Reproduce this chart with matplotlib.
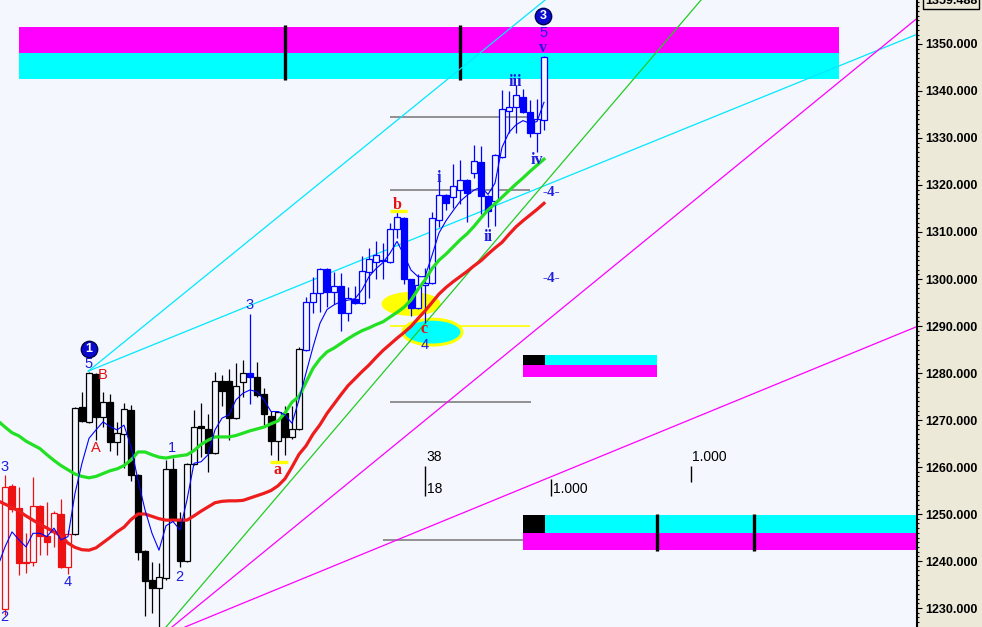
"""Candlestick chart with wave labels, target bands and trend lines."""

import matplotlib
matplotlib.use("Agg")
import matplotlib.pyplot as plt
from matplotlib.patches import Ellipse, Rectangle
from matplotlib.ticker import MultipleLocator
import numpy as np

plt.rcParams["font.family"] = ["Liberation Sans", "DejaVu Sans"]

# --- price bars (bar index 0..77) ---
opens = [1229.7, 1255.9, 1251.2, 1239.8, 1239.7, 1251.7, 1245.3, 1246.1, 1250.1, 1238.7,
         1245.7, 1272.7, 1269.6, 1279.8, 1270.6, 1273.8, 1265.3, 1267.0, 1272.1, 1258.3,
         1242.2, 1236.0, 1234.2, 1236.3, 1259.5, 1248.9, 1239.9, 1260.6, 1268.7, 1268.0,
         1262.9, 1278.2, 1278.4, 1270.5, 1278.0, 1280.1, 1279.1, 1275.5, 1270.9, 1265.5,
         1271.4, 1266.3, 1268.0, 1284.9, 1295.2, 1297.1, 1302.1, 1297.3, 1298.5, 1292.7,
         1295.7, 1294.8, 1301.4, 1303.6, 1304.0, 1303.6, 1310.6, 1312.9, 1299.9, 1293.8,
         1298.7, 1299.2, 1312.6, 1317.9, 1317.4, 1318.9, 1321.1, 1322.5, 1324.8, 1317.7,
         1316.5, 1326.0, 1335.8, 1336.5, 1338.8, 1335.6, 1331.0, 1333.8]
highs = [1258.3, 1256.3, 1255.8, 1246.0, 1257.9, 1251.9, 1252.6, 1250.6, 1253.1, 1246.5,
         1272.8, 1276.0, 1280.3, 1280.0, 1276.0, 1275.5, 1269.6, 1273.6, 1273.2, 1258.5,
         1242.4, 1239.7, 1239.6, 1261.5, 1261.9, 1250.5, 1260.8, 1272.1, 1273.7, 1271.3,
         1280.3, 1279.6, 1280.9, 1282.1, 1282.7, 1292.6, 1282.4, 1276.8, 1272.0, 1272.0,
         1272.9, 1273.0, 1285.5, 1296.1, 1300.5, 1302.3, 1302.3, 1301.4, 1301.3, 1298.3,
         1298.6, 1304.8, 1306.5, 1308.0, 1307.7, 1311.9, 1314.3, 1313.1, 1300.1, 1301.0,
         1302.3, 1314.3, 1322.5, 1318.1, 1324.5, 1325.3, 1321.3, 1328.5, 1328.3, 1317.9,
         1326.6, 1340.2, 1340.0, 1341.2, 1340.5, 1338.1, 1338.4, 1347.4]
lows = [1228.5, 1250.5, 1237.0, 1237.5, 1239.0, 1241.3, 1241.3, 1243.0, 1238.5, 1237.2,
        1245.5, 1269.5, 1269.4, 1265.7, 1268.6, 1263.3, 1262.5, 1259.7, 1257.0, 1240.2,
        1228.2, 1229.0, 1225.5, 1236.0, 1248.5, 1238.7, 1239.7, 1260.4, 1262.2, 1259.0,
        1262.7, 1273.0, 1265.7, 1270.3, 1275.0, 1273.5, 1275.0, 1269.0, 1262.5, 1261.0,
        1262.5, 1266.0, 1267.8, 1284.7, 1292.8, 1293.0, 1294.0, 1294.7, 1288.9, 1291.0,
        1294.6, 1294.6, 1296.0, 1300.0, 1300.0, 1303.4, 1308.7, 1299.0, 1292.1, 1293.6,
        1290.6, 1299.0, 1311.1, 1314.7, 1315.0, 1316.0, 1312.2, 1321.4, 1313.9, 1311.1,
        1311.3, 1325.8, 1331.0, 1331.0, 1335.4, 1330.3, 1327.1, 1331.6]
closes = [1255.8, 1251.1, 1239.6, 1239.6, 1251.8, 1245.3, 1244.0, 1250.3, 1238.8, 1245.7,
          1272.6, 1269.8, 1280.0, 1270.6, 1273.8, 1265.3, 1267.2, 1272.3, 1258.3, 1242.0,
          1235.8, 1234.2, 1236.5, 1259.5, 1248.9, 1239.9, 1260.6, 1268.6, 1268.2, 1262.9,
          1278.2, 1276.2, 1270.4, 1277.2, 1280.0, 1279.2, 1275.3, 1271.2, 1265.6, 1271.6,
          1266.4, 1268.0, 1285.2, 1295.2, 1297.1, 1302.1, 1297.3, 1298.6, 1292.7, 1295.9,
          1294.8, 1301.7, 1304.2, 1305.1, 1303.8, 1310.6, 1313.1, 1300.1, 1293.8, 1298.7,
          1299.2, 1312.9, 1317.9, 1316.1, 1319.8, 1321.1, 1318.2, 1325.1, 1317.7, 1314.5,
          1326.4, 1336.1, 1336.7, 1339.1, 1335.6, 1331.1, 1334.0, 1347.2]

# --- moving averages (bar index -1..77) ---
ma_fast = [1239.0, 1243.0, 1246.2, 1244.5, 1243.0, 1245.9, 1245.9, 1245.2, 1247.0, 1244.5,
           1245.2, 1254.4, 1260.8, 1266.1, 1267.9, 1269.6, 1268.6, 1267.9, 1268.9, 1264.3,
           1257.2, 1250.9, 1245.9, 1242.3, 1247.5, 1248.4, 1246.6, 1253.0, 1260.8, 1261.1,
           1262.6, 1267.9, 1270.4, 1271.1, 1274.3, 1275.7, 1276.4, 1276.0, 1274.3, 1271.8,
           1271.8, 1271.1, 1269.3, 1274.3, 1280.0, 1285.5, 1290.6, 1293.5, 1294.5, 1295.2,
           1295.5, 1295.8, 1297.7, 1300.5, 1302.2, 1303.5, 1305.5, 1308.0, 1305.1, 1301.9,
           1300.5, 1300.5, 1305.0, 1309.8, 1312.4, 1314.5, 1316.5, 1317.8, 1318.9, 1319.6,
           1318.0, 1320.4, 1328.0, 1331.2, 1332.8, 1333.7, 1333.1, 1333.5, 1337.6]
ma_mid = [1269.8, 1268.5, 1267.3, 1266.6, 1265.5, 1264.7, 1263.9, 1262.6, 1261.4, 1260.3,
          1259.4, 1258.5, 1258.0, 1257.7, 1258.0, 1258.6, 1259.2, 1259.6, 1260.3, 1261.5,
          1263.2, 1263.2, 1262.6, 1262.1, 1261.9, 1262.2, 1262.4, 1262.6, 1263.5, 1264.8,
          1265.7, 1266.4, 1266.4, 1266.4, 1266.7, 1267.2, 1267.7, 1268.1, 1268.5, 1269.2,
          1269.8, 1271.5, 1273.8, 1275.0, 1278.0, 1281.0, 1283.0, 1284.5, 1285.3, 1286.3,
          1287.3, 1288.2, 1289.0, 1289.6, 1290.3, 1290.9, 1291.9, 1292.9, 1294.0, 1295.5,
          1297.8, 1299.8, 1302.2, 1304.0, 1305.3, 1306.8, 1308.3, 1309.6, 1311.2, 1313.0,
          1314.7, 1316.0, 1317.4, 1318.8, 1320.2, 1321.5, 1322.9, 1324.2, 1325.5]
ma_slow = [1252.8, 1252.1, 1251.4, 1250.6, 1249.6, 1248.7, 1247.8, 1247.0, 1246.2, 1245.4,
           1243.8, 1242.9, 1242.4, 1242.3, 1242.8, 1243.9, 1245.0, 1246.2, 1247.2, 1248.8,
           1250.0, 1250.0, 1249.5, 1249.0, 1248.7, 1248.7, 1248.7, 1248.7, 1249.6, 1250.6,
           1251.5, 1252.4, 1252.7, 1252.8, 1252.8, 1252.9, 1253.4, 1253.9, 1254.4, 1255.0,
           1256.0, 1257.5, 1260.0, 1262.7, 1264.5, 1267.0, 1269.0, 1271.4, 1273.4, 1275.4,
           1277.3, 1278.8, 1280.3, 1281.7, 1283.3, 1284.8, 1286.1, 1287.4, 1288.6, 1289.9,
           1291.6, 1293.2, 1295.0, 1296.8, 1298.2, 1299.4, 1300.5, 1301.6, 1302.8, 1303.9,
           1305.3, 1306.6, 1307.8, 1309.5, 1311.1, 1312.4, 1313.6, 1314.8, 1316.1]

# --- wave labels (text, bar index, price) ---
blue_numbers = [("3", -0.1, 1260.0), ("2", -0.1, 1228.1), ("4", 8.9, 1235.5),
                ("5", 11.9, 1281.9), ("1", 23.9, 1264.0), ("2", 24.9, 1236.6),
                ("3", 35.0, 1294.5), ("4", 59.9, 1285.9), ("5", 76.9, 1352.3)]
red_caps = [("B", 13.9, 1279.6), ("A", 13.0, 1264.0)]
red_small = [("a", 39.0, 1259.4), ("b", 56.0, 1315.7), ("c", 59.9, 1289.3)]
blue_roman = [("i", 62.0, 1321.5), ("ii", 69.0, 1308.9), ("iii", 72.9, 1341.9),
              ("iv", 76.0, 1325.3), ("v", 76.9, 1349.1)]
wave4_marks = [("-4-", 78.0, 1318.3), ("-4-", 78.0, 1300.2)]
circled = [("1", 12.0, 1285.2), ("3", 76.9, 1356.0)]

# --- target bands: (x0, x1, low, mid, high, black_end) ---
bands = [(2.0, 119.1, 1342.6, 1348.0, 1353.7, None),
         (74.0, 93.1, 1279.2, 1281.6, 1283.8, 77.14),
         (74.0, 132.0, 1242.3, 1245.9, 1249.8, 77.14)]
band_marks = [(40.0, 1342.3, 1354.0), (65.0, 1342.3, 1354.0),
              (93.14, 1242.1, 1249.9), (107.0, 1242.1, 1249.9)]

gray_levels = [(55.0, 75.0, 1334.5), (55.0, 75.0, 1318.9),
               (55.0, 75.1, 1273.8), (54.0, 74.0, 1244.5)]
yellow_level = (55.0, 75.0, 1290.0)
yellow_dashes = [(37.8, 40.4, 1261.0), (55.0, 57.4, 1314.5)]

# --- trend lines: two anchor points (bar index, price) ---
cyan_rays = [((11.9, 1280.4), (80.0, 1362.8)), ((11.9, 1280.4), (131.0, 1352.5))]
full_lines = [("#22CC22", (23.0, 1225.96), (99.43, 1359.36)),
              ("#FF00FF", (23.86, 1225.96), (130.0, 1355.1)),
              ("#FF00FF", (25.71, 1225.96), (130.14, 1289.8))]

# fib markers: (bar index, price top, price bottom, texts)
fib_marks = [(60.04, 1260.2, 1253.8, [("38", 1262.1), ("18", 1255.3)]),
             (78.04, 1257.4, 1253.8, [("1.000", 1255.3)]),
             (98.0, 1260.2, 1256.8, [("1.000", 1262.1)])]

BG = "#F4F7FE"
PANEL = "#ECE9D8"
LABEL_BLUE = "#1E1EDC"
LABEL_RED = "#E81010"


def bar_color(i):
    if i < 10:
        return "#EE1111"
    if i == 35 or i >= 43:
        return "#0000FF"
    return "black"


def main():
    fig = plt.figure(figsize=(9.82, 6.27), dpi=100, facecolor=PANEL)
    ax = fig.add_axes([0, 0, 917 / 982, 1])
    ax.set_facecolor(BG)
    ax.set_xlim(-5 / 7, 912 / 7)
    ax.set_ylim(1225.96, 1359.36)

    for s in ("left", "top", "bottom"):
        ax.spines[s].set_visible(False)
    ax.spines["right"].set_linewidth(1.5)
    ax.set_xticks([])
    ax.yaxis.tick_right()
    ticks = np.arange(1230, 1351, 10)
    ax.set_yticks(ticks, [f"{t:.3f}" for t in ticks])
    ax.yaxis.set_minor_locator(MultipleLocator(1))
    ax.tick_params(axis="y", which="major", direction="out", length=3.6, width=0.8,
                   pad=2, labelsize=9)
    ax.tick_params(axis="y", which="minor", direction="out", length=1.5, width=0.8)
    for t in ax.get_yticklabels():
        t.set_fontweight("bold")

    # bands
    for x0, x1, lo, mid, hi, black_end in bands:
        ax.add_patch(Rectangle((x0, mid), x1 - x0, hi - mid, fc="#FF00FF" if black_end is None else "#00FFFF",
                               ec="none", zorder=1))
        ax.add_patch(Rectangle((x0, lo), x1 - x0, mid - lo, fc="#00FFFF" if black_end is None else "#FF00FF",
                               ec="none", zorder=1))
        if black_end is not None:
            ax.add_patch(Rectangle((x0, mid), black_end - x0, hi - mid, fc="black", ec="none", zorder=1.5))
    for x, lo, hi in band_marks:
        ax.vlines(x, lo, hi, colors="black", lw=2.4, zorder=1.6)

    # horizontal levels
    for x0, x1, p in gray_levels:
        ax.hlines(p, x0, x1, colors="#808080", lw=1.2, zorder=2)
    ax.hlines(yellow_level[2], yellow_level[0], yellow_level[1], colors="#FFFF00", lw=1.2, zorder=2)

    # highlight ellipses
    ax.add_patch(Ellipse((58.0, 1294.7), 8.43, 5.1, fc="#FFFF00", ec="none", zorder=2))
    ax.add_patch(Ellipse((61.07, 1288.7), 8.43, 5.5, fc="#00FFFF", ec="#FFFF00", lw=2.2, zorder=2))

    # trend lines
    for (xa, ya), (xb, yb) in cyan_rays:
        ax.plot([xa, xb], [ya, yb], color="#00E8FF", lw=0.9, zorder=2.5)
    for col, p0, p1 in full_lines:
        ax.axline(p0, p1, color=col, lw=0.9, zorder=2.5)

    # candles
    idx = np.arange(len(opens))
    cols = [bar_color(i) for i in idx]
    o = np.array(opens)
    c = np.array(closes)
    ax.vlines(idx, lows, highs, colors=cols, lw=0.9, zorder=4)
    faces = [col if cl < op else BG for col, op, cl in zip(cols, o, c)]
    ax.bar(idx, np.abs(c - o), bottom=np.minimum(o, c), width=0.72, color=faces,
           edgecolor=cols, linewidth=0.9, zorder=5)

    # moving averages
    ma_x = np.arange(-1, len(opens))
    ax.plot(ma_x, ma_slow, color="#EE1C1C", lw=2.3, zorder=6)
    ax.plot(ma_x, ma_mid, color="#22E022", lw=2.3, zorder=6)
    ax.plot(ma_x, ma_fast, color="#0000FF", lw=0.8, zorder=6)

    # yellow dashes at a / b
    for x0, x1, p in yellow_dashes:
        ax.hlines(p, x0, x1, colors="#FFFF00", lw=2.4, zorder=6.5)

    # labels
    for txt, x, p in blue_numbers:
        ax.text(x, p, txt, color=LABEL_BLUE, fontsize=10.5, ha="center", va="center", zorder=7)
    for txt, x, p in red_caps:
        ax.text(x, p, txt, color=LABEL_RED, fontsize=10.5, ha="center", va="center", zorder=7)
    for txt, x, p in red_small:
        ax.text(x, p, txt, color=LABEL_RED, fontsize=11.5, fontweight="bold",
                family="Liberation Serif", ha="center", va="center", zorder=7)
    for txt, x, p in blue_roman:
        ax.text(x, p, txt, color=LABEL_BLUE, fontsize=11.5, fontweight="bold",
                family="Liberation Serif", ha="center", va="center", zorder=7)
    for txt, x, p in wave4_marks:
        ax.text(x, p, txt, color=LABEL_BLUE, fontsize=11, fontweight="bold",
                family="Liberation Serif", ha="center", va="center", zorder=7)
    for txt, x, p in circled:
        ax.plot(x, p, "o", ms=11.8, mfc="#0A0ACF", mec="#000050", mew=1, zorder=8)
        ax.text(x, p - 0.1, txt, color="white", fontsize=9, fontweight="bold",
                ha="center", va="center", zorder=9)

    # fib markers
    for x, top, bot, texts in fib_marks:
        ax.vlines(x, bot, top, colors="black", lw=1, zorder=7)
        for txt, p in texts:
            ax.text(x + 0.2, p, txt, color="black", fontsize=10, ha="left", va="center", zorder=7)

    # current price box at the top of the scale (cut by the top edge, as in the source)
    fig.text(951 / 982, 626 / 627, "1359.488", fontsize=9, fontweight="bold", ha="center", va="center",
             bbox=dict(boxstyle="square,pad=0.15", fc=PANEL, ec="black", lw=1))

    fig.savefig("out.png", dpi=100, facecolor=PANEL)
    plt.close(fig)


if __name__ == "__main__":
    main()
